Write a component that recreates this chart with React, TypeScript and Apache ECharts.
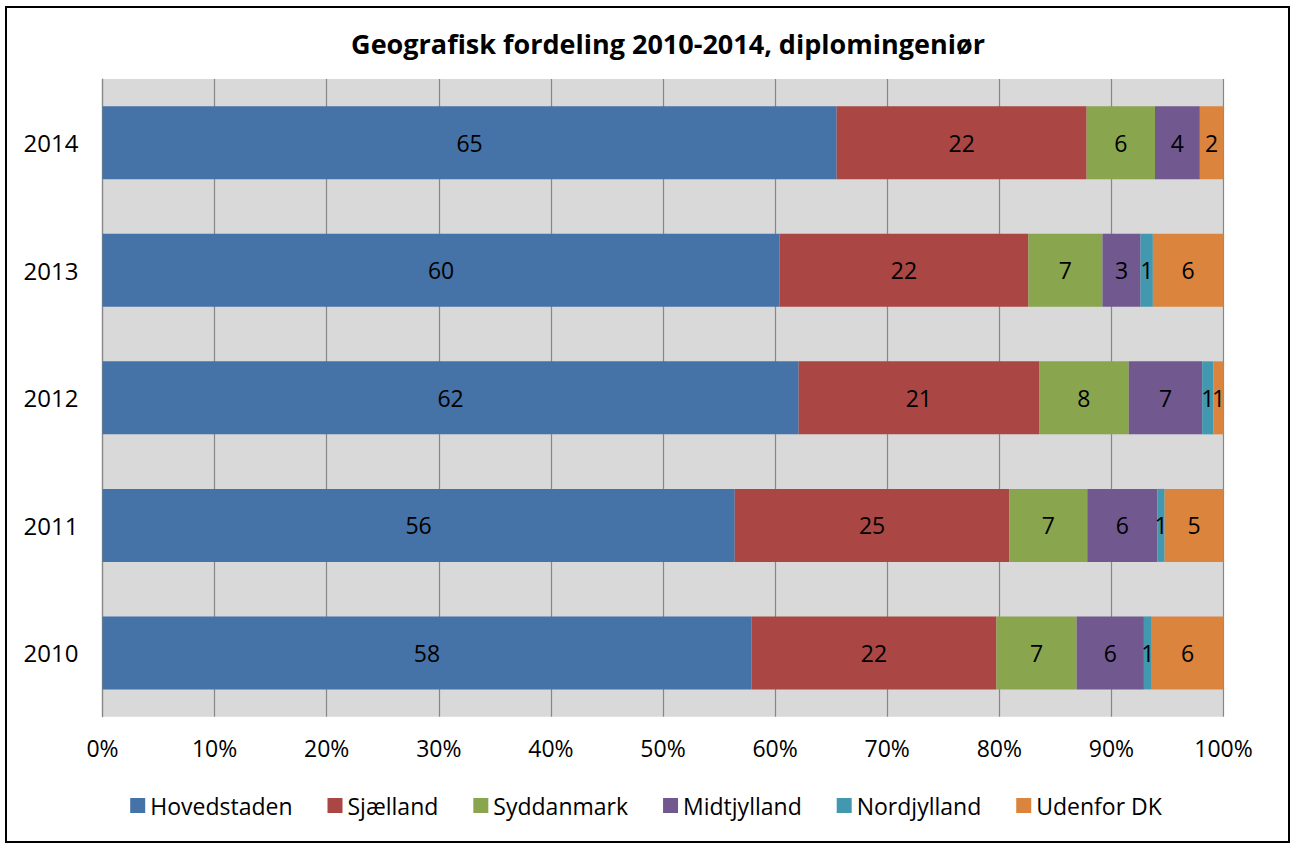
import React, { useEffect, useRef } from "react";
import * as echarts from "echarts";

const years = ["2010", "2011", "2012", "2013", "2014"];
const regions = ["Hovedstaden", "Sjælland", "Syddanmark", "Midtjylland", "Nordjylland", "Udenfor DK"];
const colors = ["#4572A7", "#AA4643", "#89A54E", "#71588F", "#4198AF", "#DB843D"];

// percentage shares per region, order 2010..2014
const hovedstaden = [57.9, 56.4, 62.1, 60.4, 65.49];
const sjaelland = [21.85, 24.5, 21.45, 22.2, 22.3];
const syddanmark = [7.15, 6.95, 8.0, 6.6, 6.1];
const midtjylland = [6.0, 6.25, 6.55, 3.4, 4.0];
const nordjylland = [0.7, 0.65, 1.0, 1.1, 0];
const udenforDK = [6.4, 5.25, 0.9, 6.3, 2.11];

const seriesValues = [hovedstaden, sjaelland, syddanmark, midtjylland, nordjylland, udenforDK];
const xTicks = [0, 10, 20, 30, 40, 50, 60, 70, 80, 90, 100];

const FONT = "'Open Sans', sans-serif";

export default function App() {
  const ref = useRef<HTMLDivElement>(null);
  useEffect(() => {
    if (!ref.current) return;
    const chart = echarts.init(ref.current, null, { renderer: "svg" });
    chart.setOption({
      animation: false,
      backgroundColor: "#ffffff",
      color: colors,
      title: {
        text: "Geografisk fordeling 2010-2014, diplomingeniør",
        left: 663,
        textAlign: "center",
        top: 25,
        textStyle: { fontFamily: FONT, fontSize: 27, fontWeight: "bold", color: "#000" },
      },
      graphic: [
        {
          type: "rect",
          shape: { x: 6, y: 7, width: 1283, height: 835 },
          style: { fill: "none", stroke: "#000", lineWidth: 2 },
          silent: true,
        },
      ],
      legend: {
        bottom: 21,
        left: "center",
        icon: "rect",
        itemWidth: 15,
        itemHeight: 15,
        itemGap: 35,
        textStyle: { fontFamily: FONT, fontSize: 23, color: "#000" },
        data: regions,
      },
      grid: {
        left: 102.5,
        right: 68.5,
        top: 79,
        height: 637.7,
        show: true,
        backgroundColor: "#D9D9D9",
        borderWidth: 0,
      },
      xAxis: {
        type: "value",
        min: xTicks[0],
        max: xTicks[xTicks.length - 1],
        interval: 10,
        axisLine: { show: false },
        axisTick: { show: false },
        splitLine: { show: true, lineStyle: { color: "#878787", width: 1.2 } },
        axisLabel: {
          formatter: "{value}%",
          margin: 20,
          fontFamily: FONT,
          fontSize: 23,
          color: "#000",
        },
      },
      yAxis: {
        type: "category",
        data: years,
        axisLine: { show: true, lineStyle: { color: "#878787", width: 1.2 } },
        axisTick: { show: false },
        axisLabel: { margin: 24, fontFamily: FONT, fontSize: 24, color: "#000" },
      },
      series: regions.map((name, i) => ({
        name,
        type: "bar",
        stack: "total",
        barWidth: 73,
        data: seriesValues[i],
        label: {
          show: true,
          position: "inside",
          color: "#000",
          fontFamily: FONT,
          fontSize: 23,
          formatter: (p: any) => (p.value > 0 ? String(Math.round(p.value)) : ""),
        },
      })),
    });
    return () => chart.dispose();
  }, []);
  return (
    <div
      ref={ref}
      style={{ position: "fixed", left: 0, top: 0, width: 1292, height: 843 }}
    />
  );
}
